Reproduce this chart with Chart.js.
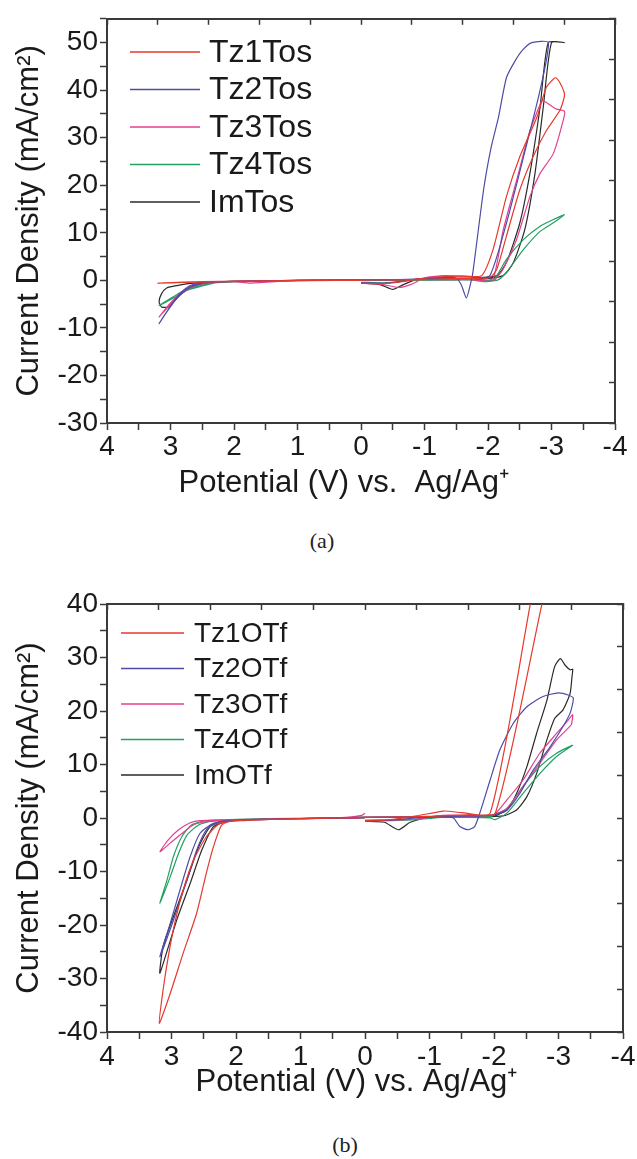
<!DOCTYPE html>
<html><head><meta charset="utf-8">
<script src="https://cdn.jsdelivr.net/npm/chart.js@4.4.1/dist/chart.umd.min.js"></script>
<style>
html,body{margin:0;padding:0;background:#fff;width:637px;height:1159px;overflow:hidden;}
#wa{position:absolute;left:0;top:0;width:637px;height:510px;}
#wb{position:absolute;left:0;top:560px;width:637px;height:550px;}
.cap{position:absolute;font-family:'Liberation Serif','Times New Roman',serif;font-size:22px;color:#222;transform:translate(-50%,-50%);white-space:nowrap;}
</style></head><body>
<div id="wa"><canvas id="ca"></canvas></div>
<div id="wb"><canvas id="cb"></canvas></div>
<div class="cap" style="left:322px;top:541px">(a)</div>
<div class="cap" style="left:345px;top:1145px">(b)</div>
<script>
// ---------- (a) Tos series : potential (V) and current density (mA/cm2) ----------
const seriesLabelsA = ['Tz1Tos','Tz2Tos','Tz3Tos','Tz4Tos','ImTos'];
const tz1TosV = [0,-0.3,-0.6,-0.9,-1.2,-1.6,-1.9,-2.08,-2.29,-2.5,-2.77,-2.92,-3.06,-3.13,-3.2,-3.2,-3.13,-2.92,-2.71,-2.5,-2.29,-2.14,-2.03,-1.6,-1.0,-0.5,0,0.8,1.5,2.2,2.8,3.2,2.8,2.2,1.5,0.8,0];
const tz1TosI = [-0.6,-0.7,-0.4,0.3,0.7,0.9,1.0,6.5,17.6,26,34.3,40.6,42.6,41.6,39.5,38.5,35.7,31.5,26,19,9.3,2.4,0.6,0.4,0.2,0.1,0.1,0,-0.1,-0.2,-0.35,-0.6,-0.45,-0.3,-0.15,-0.05,0];
const tz2TosV = [0,-0.4,-0.8,-1.2,-1.5,-1.58,-1.66,-1.72,-1.76,-1.93,-2.05,-2.16,-2.29,-2.42,-2.55,-2.69,-2.95,-2.82,-2.56,-2.29,-2.03,-1.8,-1.3,-0.5,0,1,2,2.43,2.69,2.88,3.01,3.18,3.05,2.9,2.7,2.45,2.0,1,0];
const tz2TosI = [-0.5,-0.6,0.2,0.6,0.5,-1.0,-3.7,-1.0,1.5,19,28,34,42.6,46,48.5,50,50,40,26,12,1.0,0.6,0.4,0.1,0.1,0,-0.2,-0.4,-1.1,-3.2,-5.6,-9.1,-6.5,-3.8,-1.5,-0.5,-0.2,0,0];
const tz3TosV = [0,-0.3,-0.6,-0.8,-1.0,-1.3,-1.6,-1.9,-2.08,-2.24,-2.45,-2.66,-2.82,-2.85,-2.92,-3.08,-3.2,-3.2,-3.03,-2.82,-2.66,-2.45,-2.24,-2.1,-2.0,-1.6,-1.0,0,1.0,1.73,2.0,2.38,2.64,2.82,3.01,3.18,3.05,2.88,2.7,2.45,2.0,1.0,0];
const tz3TosI = [-0.6,-0.8,-1.5,-0.8,0.5,1.0,0.9,0.6,0.3,10.6,21,31.5,37,37.8,37.4,36,35.6,34.5,26.7,22.5,17.6,8.6,2.4,0,-0.2,0.3,0.2,0.1,0,-0.6,-0.3,-0.4,-1.1,-2.5,-4.9,-7.7,-5.8,-3.5,-1.6,-0.6,-0.2,0,0];
const tz4TosV = [0,-0.4,-0.8,-1.2,-1.6,-1.98,-2.1,-2.29,-2.56,-2.82,-3.03,-3.2,-3.03,-2.82,-2.56,-2.29,-2.14,-1.6,-1.0,0,1.0,2.0,2.27,2.53,2.74,2.95,3.18,2.95,2.74,2.53,2.27,1.5,0];
const tz4TosI = [-0.4,-0.5,0,0.3,0.3,-0.3,0.2,4.4,8.6,11.4,12.8,13.8,12.1,10.3,6.5,1.7,0,0.2,0.1,0.1,0,-0.2,-0.4,-1.1,-1.8,-3.4,-5.3,-3.7,-2.1,-1.3,-0.5,-0.1,0];
const imTosV = [0,-0.3,-0.5,-0.65,-0.9,-1.3,-1.8,-2.14,-2.29,-2.5,-2.66,-2.82,-2.95,-3.2,-3.0,-2.87,-2.74,-2.58,-2.4,-2.24,-1.8,-1.0,0,1.0,2.0,2.64,2.9,3.06,3.14,3.18,3.14,3.03,2.93,2.82,2.64,2.2,1,0];
const imTosI = [-0.6,-0.9,-1.9,-1.0,0.3,0.4,0.4,1,3.75,12,22.5,36.4,50,50,50,36.4,22.5,10.7,3.75,1,0.2,0.1,0.1,0,-0.2,-0.6,-1.1,-1.6,-2.8,-4.5,-5.6,-5.6,-4.2,-2.5,-1.1,-0.3,0,0];

// ---------- (b) OTf series ----------
const seriesLabelsB = ['Tz1OTf','Tz2OTf','Tz3OTf','Tz4OTf','ImOTf'];
const tz1OTfV = [0,-0.4,-0.8,-1.22,-1.5,-1.94,-2.56,-2.72,-2.85,-2.93,-2.74,-2.02,-1.6,-1.0,0,1.0,1.94,2.25,2.46,2.66,2.82,2.95,3.05,3.13,3.19,3.02,2.82,2.61,2.46,2.35,2.22,2.04,1.0,0];
const tz1OTfI = [-0.5,-0.3,0.4,1.3,1.0,0.9,39.8,50,52,50,39.8,0.9,0.6,0.3,0.1,-0.1,-0.5,-1.0,-3.5,-7.9,-13.5,-19.7,-25.9,-32.1,-38.4,-32.8,-25.3,-17.8,-10.3,-5.4,-1.3,-0.5,-0.1,0];
const tz2OTfV = [0,-0.4,-0.8,-1.16,-1.37,-1.47,-1.6,-1.7,-1.78,-1.94,-2.09,-2.3,-2.51,-2.76,-3.0,-3.15,-3.23,-3.18,-3.07,-2.87,-2.61,-2.4,-2.2,-1.99,-1.68,-1.0,0,1.0,2.0,2.35,2.56,2.71,2.87,3.02,3.18,2.97,2.76,2.61,2.46,2.25,1.0,0];
const tz2OTfI = [-0.5,-0.4,0,0.2,0,-1.6,-2.2,-1.6,0.9,7.1,12.7,17.7,20.8,22.7,23.4,23,22.4,19.6,17.1,13.3,9.0,4.6,1.5,0.6,0.4,0.2,0.1,-0.1,-0.4,-1.0,-2.9,-7.2,-13.5,-19.7,-25.9,-19.1,-11.6,-6.0,-2.2,-0.7,-0.1,0];
const tz3OTfV = [0,-0.4,-0.8,-1.2,-1.6,-1.99,-2.2,-2.45,-2.71,-2.97,-3.15,-3.22,-3.2,-3.15,-2.97,-2.71,-2.45,-2.2,-1.99,-1.5,-0.8,0,1.0,2.0,2.56,2.71,2.89,3.05,3.18,3.02,2.84,2.66,2.46,2.0,1.0,0.3,0.05,0];
const tz3OTfI = [-0.4,-0.4,-0.2,0.5,0.5,0.6,3.4,7.1,12.1,15.8,18.3,19.3,17.5,16.8,14.6,10.2,5.9,1.8,0.6,0.3,0.2,0.1,-0.1,-0.3,-0.5,-0.9,-2.2,-4.1,-6.3,-4.7,-2.9,-1.3,-0.7,-0.4,-0.1,0.1,0.5,0.9];
const tz4OTfV = [0,-0.4,-0.8,-1.2,-1.6,-1.94,-2.02,-2.2,-2.45,-2.71,-2.97,-3.22,-2.97,-2.71,-2.45,-2.2,-1.94,-1.0,0,1,2.0,2.35,2.58,2.76,2.89,3.02,3.18,3.07,2.97,2.84,2.69,2.46,1.5,0];
const tz4OTfI = [-0.6,-0.5,-0.3,0.1,0.1,0,-0.3,0.9,4.6,8.3,11.5,13.6,12.1,9.6,5.9,1.8,0.3,0.2,0.1,-0.1,-0.3,-0.5,-1.3,-3.2,-6.6,-11,-15.9,-11.6,-7.2,-3.5,-1.3,-0.5,-0.1,0];
const imOTfV = [0,-0.3,-0.52,-0.7,-1.0,-1.5,-1.94,-2.2,-2.35,-2.51,-2.66,-2.82,-2.94,-3.03,-3.1,-3.18,-3.22,-3.21,-3.18,-3.07,-2.94,-2.82,-2.66,-2.51,-2.35,-2.14,-1.5,-0.8,0,1.0,2.0,2.15,2.35,2.53,2.71,2.92,3.18,3.13,2.97,2.76,2.58,2.4,2.2,1.0,0];
const imOTfI = [-0.6,-0.8,-2.2,-0.8,0.2,0.4,0.2,1.5,4.6,9.6,15.8,22,28.3,29.8,28.6,27.7,27.8,26.5,23.3,20.2,18.6,14.6,8.3,4.0,1.5,0.4,0.2,0.1,0.1,-0.1,-0.4,-0.7,-1.6,-6.0,-12.2,-19.1,-29,-24,-18.4,-11.6,-5.4,-1.6,-0.6,-0.1,0];

// tick ranges
const xTickMin = -4, xTickMax = 4, xMinorStep = 0.5;
const yRangeA = [-30, 55], yRangeB = [-40, 40], yMinorStep = 5, yLabelStep = 10;
const seriesColors = ['#e5392e','#4d4ca8','#e2408e','#22a062','#2a2a2a'];

const FONT = '"Liberation Sans", Arial, sans-serif';
const TXT = '#1a1a1a';
const AX = '#3a3a3a';

function pts(V, I){ return V.map((v,i)=>({x:v, y:I[i]})); }

const innerLegend = {
  id: 'innerLegend',
  afterDatasetsDraw(chart, args, o) {
    const ctx = chart.ctx;
    ctx.save();
    ctx.font = o.size + 'px ' + FONT;
    ctx.textBaseline = 'middle';
    ctx.textAlign = 'left';
    chart.data.datasets.forEach((ds, i) => {
      const y = o.y0 + i * o.dy;
      ctx.strokeStyle = ds.borderColor; ctx.lineWidth = 1.3;
      ctx.beginPath(); ctx.moveTo(o.x0, y); ctx.lineTo(o.x1, y); ctx.stroke();
      ctx.fillStyle = TXT;
      ctx.fillText(ds.label, o.tx, y + 1);
    });
    ctx.restore();
  }
};

function makeChart(id, labels, data, yr, g) {
  const datasets = labels.map((lab, i) => ({
    label: lab, data: data[i], borderColor: seriesColors[i], backgroundColor: seriesColors[i],
    borderWidth: 1.2, pointRadius: 0, showLine: true, fill: false, tension: 0.2
  }));
  return new Chart(document.getElementById(id), {
    type: 'scatter',
    data: { datasets },
    plugins: [innerLegend],
    options: {
      responsive: true, maintainAspectRatio: false, animation: false, devicePixelRatio: 1,
      layout: { padding: { top: g.top, right: g.right, left: 0, bottom: 0 } },
      plugins: { legend: { display: false }, tooltip: { enabled: false }, innerLegend: g.legend },
      scales: {
        x: {
          type: 'linear', position: 'bottom', min: xTickMin, max: xTickMax, reverse: true,
          ticks: { stepSize: xMinorStep, autoSkip: false, maxRotation: 0, padding: g.xPad, color: TXT,
                   font: { size: 28, family: FONT }, callback: v => Number.isInteger(v) ? String(v) : '' },
          grid: { drawOnChartArea: false, drawTicks: true, tickLength: 7, color: AX, tickWidth: 1.5 },
          border: { display: true, color: AX, width: 2 },
          title: { display: true, text: g.xTitle, color: TXT, font: { size: 31, family: FONT }, padding: { top: 0, bottom: g.xTitlePad } },
          afterFit: s => { s.height = g.xH; }
        },
        y: {
          type: 'linear', position: 'left', min: yr[0], max: yr[1],
          ticks: { stepSize: yMinorStep, autoSkip: false, padding: 2, color: TXT,
                   font: { size: 28, family: FONT }, callback: v => (v % yLabelStep === 0) ? String(v) : '' },
          grid: { drawOnChartArea: false, drawTicks: true, tickLength: 7, color: AX, tickWidth: 1.5 },
          border: { display: true, color: AX, width: 2 },
          title: { display: true, text: 'Current Density (mA/cm²)', color: TXT, font: { size: 31, family: FONT }, padding: { top: 11, bottom: 0 } },
          afterFit: s => { s.width = 107; }
        },
        x2: {
          type: 'linear', position: 'top', min: 0, max: 10,
          ticks: { display: false, stepSize: 1 },
          grid: { drawOnChartArea: false, drawTicks: true, tickLength: -6, color: AX, tickWidth: 1.5 },
          border: { display: true, color: AX, width: 2 },
          afterFit: s => { s.height = 0; }
        },
        y2: {
          type: 'linear', position: 'right', min: 0, max: 10,
          ticks: { display: false, stepSize: 1 },
          grid: { drawOnChartArea: false, drawTicks: true, tickLength: -6, color: AX, tickWidth: 1.5 },
          border: { display: true, color: AX, width: 2 },
          afterFit: s => { s.width = 0; }
        }
      }
    }
  });
}

makeChart('ca', seriesLabelsA,
  [pts(tz1TosV,tz1TosI), pts(tz2TosV,tz2TosI), pts(tz3TosV,tz3TosI), pts(tz4TosV,tz4TosI), pts(imTosV,imTosI)],
  yRangeA,
  { top: 14, right: 22, xH: 87, xPad: 0, xTitlePad: 8, xTitle: 'Potential (V) vs.  Ag/Ag⁺\u00a0\u00a0\u00a0\u00a0',
    legend: { x0: 130, x1: 200, tx: 209, y0: 52, dy: 37.5, size: 32 } });

makeChart('cb', seriesLabelsB,
  [pts(tz1OTfV,tz1OTfI), pts(tz2OTfV,tz2OTfI), pts(tz3OTfV,tz3OTfI), pts(tz4OTfV,tz4OTfI), pts(imOTfV,imOTfI)],
  yRangeB,
  { top: 44, right: 14, xH: 78, xPad: 1, xTitlePad: 9, xTitle: 'Potential (V) vs. Ag/Ag⁺\u00a0\u00a0',
    legend: { x0: 121, x1: 184, tx: 194, y0: 73, dy: 35.5, size: 28 } });
</script>
</body></html>
